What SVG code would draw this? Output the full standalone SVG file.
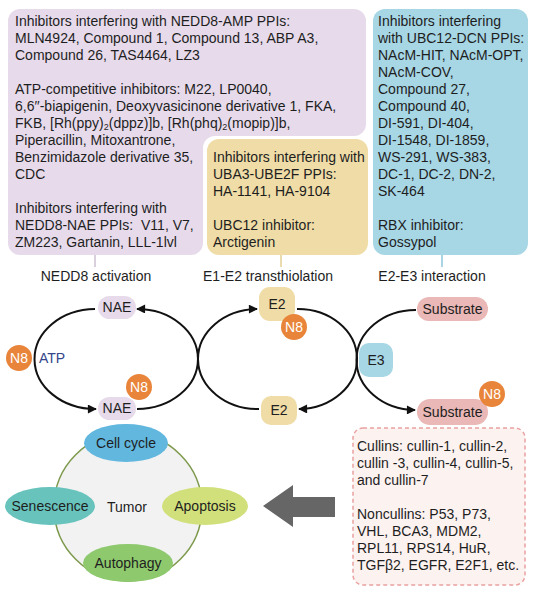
<svg xmlns="http://www.w3.org/2000/svg" width="536" height="596" viewBox="0 0 536 596">
<defs>
<style>
text{font-family:"Liberation Sans",Arial,sans-serif;font-size:14px;fill:#1e1e1e}
.n8c{fill:#e8853a}
.n8t{fill:#fff;text-anchor:middle}
.mid{text-anchor:middle}
.arc{fill:none;stroke:#111;stroke-width:2;marker-end:url(#ah)}
.tick{stroke-width:1.5}
</style>
<marker id="ah" viewBox="0 0 10 10" refX="9" refY="5" markerWidth="10" markerHeight="9" markerUnits="userSpaceOnUse" orient="auto"><path d="M0,0 L10,5 L0,10 z" fill="#111"/></marker>
</defs>
<rect width="536" height="596" fill="#fff"/>

<g id="box-nedd8">
<path d="M20 9 H354 A12 12 0 0 1 366 21 V124 A12 12 0 0 1 354 136 H215 A12 12 0 0 0 203 148 V243 A12 12 0 0 1 191 255 H20 A12 12 0 0 1 8 243 V21 A12 12 0 0 1 20 9 Z" fill="#e7dbeb"/>
<text x="15" y="26">Inhibitors interfering with NEDD8-AMP PPIs:</text>
<text x="15" y="43">MLN4924, Compound 1, Compound 13, ABP A3,</text>
<text x="15" y="60">Compound 26, TAS4464, LZ3</text>
<text x="15" y="94">ATP-competitive inhibitors: M22, LP0040,</text>
<text x="15" y="111">6,6′′-biapigenin, Deoxyvasicinone derivative 1, FKA,</text>
<text x="15" y="128">FKB, [Rh(ppy)<tspan font-size="9" dy="2">2</tspan><tspan dy="-2">(dppz)]b, [Rh(phq)</tspan><tspan font-size="9" dy="2">2</tspan><tspan dy="-2">(mopip)]b,</tspan></text>
<text x="15" y="145">Piperacillin, Mitoxantrone,</text>
<text x="15" y="162">Benzimidazole derivative 35,</text>
<text x="15" y="179">CDC</text>
<text x="15" y="213">Inhibitors interfering with</text>
<text x="15" y="230" xml:space="preserve">NEDD8-NAE PPIs:  V11, V7,</text>
<text x="15" y="247">ZM223, Gartanin, LLL-1lvl</text>
</g>

<g id="box-e1e2">
<rect x="207" y="139" width="161" height="116" rx="12" fill="#efdca6"/>
<text x="213" y="162">Inhibitors interfering with</text>
<text x="213" y="179">UBA3-UBE2F PPIs:</text>
<text x="213" y="196">HA-1141, HA-9104</text>
<text x="213" y="230">UBC12 inhibitor:</text>
<text x="213" y="247">Arctigenin</text>
</g>

<g id="box-e2e3">
<rect x="373" y="9" width="155" height="246" rx="12" fill="#a7d6e5"/>
<text x="378" y="26">Inhibitors interfering</text>
<text x="378" y="43">with UBC12-DCN PPIs:</text>
<text x="378" y="60">NAcM-HIT, NAcM-OPT,</text>
<text x="378" y="77">NAcM-COV,</text>
<text x="378" y="94">Compound 27,</text>
<text x="378" y="111">Compound 40,</text>
<text x="378" y="128">DI-591, DI-404,</text>
<text x="378" y="145">DI-1548, DI-1859,</text>
<text x="378" y="162">WS-291, WS-383,</text>
<text x="378" y="179">DC-1, DC-2, DN-2,</text>
<text x="378" y="196">SK-464</text>
<text x="378" y="230">RBX inhibitor:</text>
<text x="378" y="247">Gossypol</text>
</g>

<g id="stage-labels">
<line class="tick" x1="95" y1="255" x2="95" y2="267" stroke="#cdbfd2"/>
<line class="tick" x1="281" y1="255" x2="281" y2="267" stroke="#e3cf95"/>
<line class="tick" x1="442" y1="255" x2="442" y2="267" stroke="#8fc6dc"/>
<text class="mid" x="96" y="281">NEDD8 activation</text>
<text class="mid" x="268" y="281">E1-E2 transthiolation</text>
<text class="mid" x="432" y="281">E2-E3 interaction</text>
</g>

<g id="connectors">
<path class="arc" d="M95 309 A61 50 0 0 0 96 409"/>
<path class="arc" d="M137 409 A61 50 0 0 0 137 309"/>
<path class="arc" d="M259 409 A60 50 0 0 1 257 309"/>
<path class="arc" d="M297 309 A59 50 0 0 1 299 409"/>
<path class="arc" d="M416 310 A59 50 0 0 0 415 410"/>
</g>

<g id="n8-free">
<circle class="n8c" cx="19" cy="358" r="13"/>
<text class="n8t" x="19" y="363">N8</text>
<text x="39" y="363" style="fill:#34458a">ATP</text>
</g>

<g id="nae-top">
<rect x="98" y="296" width="38" height="23" rx="11.5" fill="#e7dbeb"/>
<text class="mid" x="117" y="312">NAE</text>
</g>

<g id="nae-bottom">
<rect x="98" y="397" width="38" height="23" rx="11.5" fill="#e7dbeb"/>
<text class="mid" x="117" y="413">NAE</text>
<circle class="n8c" cx="139" cy="387" r="13"/>
<text class="n8t" x="139" y="392">N8</text>
</g>

<g id="e2-top">
<rect x="259" y="287" width="36" height="34" rx="11" fill="#efdca6"/>
<text class="mid" x="277" y="309">E2</text>
<circle class="n8c" cx="294" cy="327" r="13"/>
<text class="n8t" x="294" y="332">N8</text>
</g>

<g id="e2-bottom">
<rect x="261" y="396" width="36" height="29" rx="10" fill="#efdca6"/>
<text class="mid" x="279" y="415">E2</text>
</g>

<g id="e3">
<rect x="359" y="343" width="34" height="34" rx="10" fill="#a7d6e5"/>
<text class="mid" x="376" y="365">E3</text>
</g>

<g id="substrate-top">
<rect x="417" y="297" width="71" height="24" rx="12" fill="#eab8b6"/>
<text class="mid" x="452.500" y="314">Substrate</text>
</g>

<g id="substrate-bottom">
<rect x="417" y="399" width="71" height="26" rx="13" fill="#eab8b6"/>
<text class="mid" x="452.500" y="417">Substrate</text>
<circle class="n8c" cx="492" cy="394" r="13"/>
<text class="n8t" x="492" y="399">N8</text>
</g>

<g id="tumor">
<circle cx="128" cy="507" r="74" fill="#f2f2f2" stroke="#7d9a4c" stroke-width="1.5"/>
<text class="mid" x="127" y="512">Tumor</text>
</g>
<g id="cell-cycle">
<ellipse cx="126" cy="443" rx="42" ry="19" fill="#62b7df"/>
<text class="mid" x="126" y="448">Cell cycle</text>
</g>
<g id="senescence">
<ellipse cx="50" cy="506" rx="45" ry="19" fill="#68c3bd"/>
<text class="mid" x="50" y="511">Senescence</text>
</g>
<g id="apoptosis">
<ellipse cx="205" cy="506" rx="43" ry="19" fill="#d2e07c"/>
<text class="mid" x="205" y="511">Apoptosis</text>
</g>
<g id="autophagy">
<ellipse cx="128" cy="563" rx="45" ry="19" fill="#8ec96d"/>
<text class="mid" x="128" y="568">Autophagy</text>
</g>

<g id="big-arrow">
<path d="M263 506 L293 485 L293 497 L335 497 L335 517 L293 517 L293 527 Z" fill="#666"/>
</g>

<g id="substrates-box">
<rect x="353" y="428" width="172" height="157" rx="10" fill="#fcf2f0" stroke="#e9a1a1" stroke-width="1.5" stroke-dasharray="4 3"/>
<text x="357" y="451">Cullins: cullin-1, cullin-2,</text>
<text x="357" y="468">cullin -3, cullin-4, cullin-5,</text>
<text x="357" y="485">and cullin-7</text>
<text x="357" y="519">Noncullins: P53, P73,</text>
<text x="357" y="536">VHL, BCA3, MDM2,</text>
<text x="357" y="553">RPL11, RPS14, HuR,</text>
<text x="357" y="570">TGFβ2, EGFR, E2F1, etc.</text>
</g>
</svg>
